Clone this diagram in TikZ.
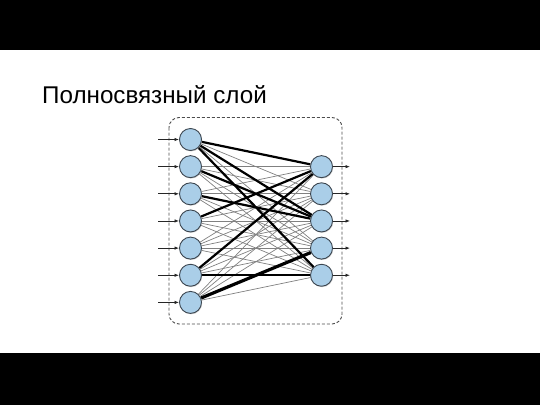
\documentclass[tikz,border=0pt]{standalone}
\usepackage{fontspec}
\setmainfont{Liberation Sans}
\usepackage{tikz}
\usetikzlibrary{arrows.meta,shadows,backgrounds}
\usepackage{xcolor}
\definecolor{cellblue}{RGB}{170,206,232}
\definecolor{cellline}{RGB}{60,70,80}

\begin{document}
\begin{tikzpicture}[x=1pt,y=-1pt,
  neuron/.style={circle,draw=cellline,line width=0.9pt,fill=cellblue,inner sep=0pt,minimum size=22pt,
    drop shadow={shadow xshift=0.7pt,shadow yshift=-0.9pt,fill=black!35}},
  weak/.style={draw=black!50,line width=0.7pt},
  strong/.style={draw=black,line width=2.2pt},
  io/.style={draw=black!85,line width=0.8pt,-{Latex[length=4.5pt,width=3.5pt]}}]
  \useasboundingbox (0,0) rectangle (540,405);
  \fill[black] (0,0) rectangle (540,50);
  \fill[black] (0,353) rectangle (540,405);

  % Title
  \node[anchor=base west,inner sep=0pt,font=\fontsize{24.2}{29}\selectfont] (title) at (42,103.5) {Полносвязный слой};

  % Frame
  \draw[black!70,line width=0.9pt,dash pattern=on 3pt off 2pt,rounded corners=10pt] (169,117.5) rectangle (342,324);

  % Input layer
  \foreach \i in {1,...,7} {
    \node[neuron] (L\i) at (190.5,{139.5+27.15*(\i-1)}) {};
    \coordinate (in\i) at (158,{139.5+27.15*(\i-1)});
  }
  % Output layer
  \foreach \j in {1,...,5} {
    \node[neuron] (R\j) at (321.5,{166.65+27.15*(\j-1)}) {};
    \coordinate (out\j) at (350,{166.65+27.15*(\j-1)});
  }

  % All connections, behind the neurons
  \begin{scope}[on background layer]
  \foreach \i in {1,...,7}
    \foreach \j in {1,...,5}
      \draw[weak] (L\i) -- (R\j);
  \foreach \i/\j in {1/1,1/3,1/5,2/3,3/3,4/1,6/1,6/5}
    \draw[strong] (L\i) -- (R\j);
  \draw[strong,line width=3.2pt] (L7) -- (R4);
  \end{scope}

  % Inputs and outputs
  \foreach \i in {1,...,7}
    \draw[io] (in\i) -- (L\i);
  \foreach \j in {1,...,5}
    \draw[io] (R\j) -- (out\j);
\end{tikzpicture}
\end{document}
